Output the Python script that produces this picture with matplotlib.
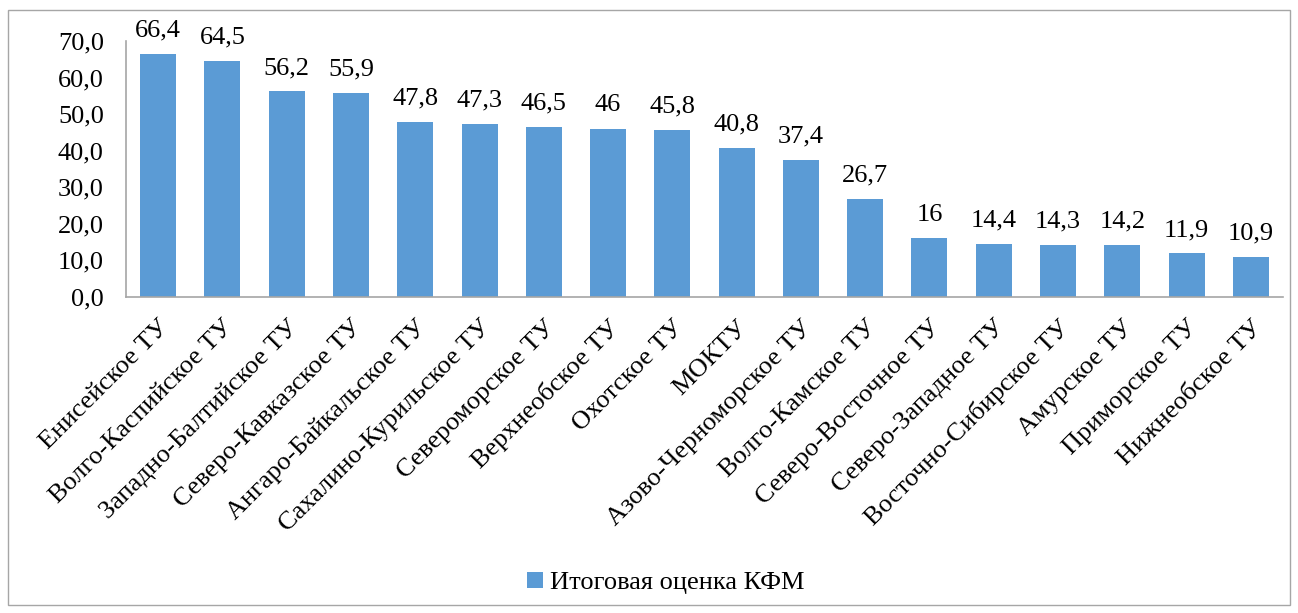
import matplotlib.pyplot as plt
from matplotlib.patches import Rectangle

# Данные
categories = [
    "Енисейское ТУ", "Волго-Каспийское ТУ", "Западно-Балтийское ТУ",
    "Северо-Кавказское ТУ", "Ангаро-Байкальское ТУ", "Сахалино-Курильское ТУ",
    "Североморское ТУ", "Верхнеобское ТУ", "Охотское ТУ", "МОКТУ",
    "Азово-Черноморское ТУ", "Волго-Камское ТУ", "Северо-Восточное ТУ",
    "Северо-Западное ТУ", "Восточно-Сибирское ТУ", "Амурское ТУ",
    "Приморское ТУ", "Нижнеобское ТУ",
]
values = [66.4, 64.5, 56.2, 55.9, 47.8, 47.3, 46.5, 46, 45.8, 40.8,
          37.4, 26.7, 16, 14.4, 14.3, 14.2, 11.9, 10.9]
y_ticks = [0, 10, 20, 30, 40, 50, 60, 70]
series_name = "Итоговая оценка КФМ"

plt.rcParams['font.family'] = ['Liberation Serif', 'DejaVu Serif']
FS = 19

fig = plt.figure(figsize=(12.98, 6.13), dpi=100)
ax = fig.add_axes([0.0971, 0.5155, 0.8913, 0.4176])

x = list(range(len(categories)))
bars = ax.bar(x, values, width=0.56, color='#5B9BD5', label=series_name)

# подписи значений над столбцами
for xi, v in zip(x, values):
    txt = f"{v:g}".replace('.', ',')
    ax.annotate(txt, (xi, v), xytext=(0, 9), textcoords='offset points',
                ha='center', va='bottom', fontsize=FS, annotation_clip=False)

ax.set_xlim(-0.5, len(categories) - 0.5)
ax.set_ylim(0, 70)
ax.set_yticks(y_ticks)
ax.set_yticklabels([f"{t:.1f}".replace('.', ',') for t in y_ticks], fontsize=FS)
ax.tick_params(axis='y', length=0, pad=16)

ax.set_xticks(x)
ax.set_xticklabels(categories, rotation=45, ha='right', rotation_mode='anchor',
                   fontsize=FS)
ax.tick_params(axis='x', length=0, pad=14)

for s in ['top', 'right']:
    ax.spines[s].set_visible(False)
for s in ['left', 'bottom']:
    ax.spines[s].set_color('#A6A6A6')
    ax.spines[s].set_linewidth(1.2)

fig.legend(handles=[bars], labels=[series_name], loc='center',
           bbox_to_anchor=(0.513, 0.049), frameon=False, fontsize=FS,
           handlelength=0.6, handleheight=0.6, handletextpad=0.3)

fig.patches.append(Rectangle((0.006, 0.013), 0.988, 0.97, transform=fig.transFigure,
                             fill=False, edgecolor='#A6A6A6', linewidth=1))

fig.savefig('out.png', dpi=100)
